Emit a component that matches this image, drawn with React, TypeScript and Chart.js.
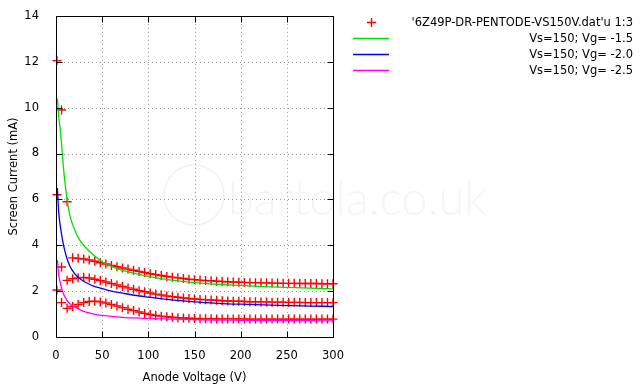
import React, { useEffect, useRef } from "react";
import { Chart, registerables } from "chart.js";

Chart.register(...registerables);

// ---- data ----
const anodeVoltage = [
  1, 6, 12, 18, 24, 30, 36, 42, 48, 54, 60, 66, 72, 78, 84, 90, 96, 102, 108, 114,
  120, 126, 132, 138, 144, 150, 156, 162, 168, 174, 180, 186, 192, 198, 204, 210,
  216, 222, 228, 234, 240, 246, 252, 258, 264, 270, 276, 282, 288, 294, 300,
];
const measuredVg15 = [
  12.05, 9.9, 5.9, 3.45, 3.43, 3.4, 3.36, 3.3, 3.24, 3.18, 3.12, 3.06, 3.01, 2.96,
  2.91, 2.86, 2.81, 2.76, 2.72, 2.68, 2.64, 2.61, 2.58, 2.55, 2.52, 2.5, 2.48, 2.46,
  2.45, 2.43, 2.42, 2.41, 2.4, 2.39, 2.38, 2.37, 2.37, 2.36, 2.36, 2.35, 2.35, 2.34,
  2.34, 2.34, 2.33, 2.33, 2.33, 2.33, 2.32, 2.32, 2.32,
];
const measuredVg20 = [
  6.2, 3.05, 2.47, 2.54, 2.58, 2.6, 2.57, 2.52, 2.46, 2.4, 2.33, 2.27, 2.2, 2.14,
  2.08, 2.02, 1.97, 1.92, 1.87, 1.83, 1.79, 1.76, 1.73, 1.7, 1.68, 1.66, 1.64, 1.62,
  1.61, 1.6, 1.58, 1.57, 1.56, 1.56, 1.55, 1.54, 1.54, 1.53, 1.53, 1.52, 1.52, 1.52,
  1.51, 1.51, 1.51, 1.5, 1.5, 1.5, 1.5, 1.5, 1.5,
];
const measuredVg25 = [
  2.05, 1.5, 1.25, 1.33, 1.42, 1.5, 1.55, 1.56, 1.53, 1.48, 1.42, 1.35, 1.28, 1.21,
  1.15, 1.09, 1.03, 0.98, 0.94, 0.91, 0.88, 0.86, 0.84, 0.83, 0.82, 0.81, 0.8, 0.8,
  0.8, 0.79, 0.79, 0.79, 0.79, 0.79, 0.79, 0.78, 0.78, 0.78, 0.78, 0.78, 0.78, 0.78,
  0.78, 0.78, 0.78, 0.78, 0.78, 0.78, 0.78, 0.78, 0.78,
];

const fitVoltage = [
  1.5, 3, 5, 7, 9, 12, 15, 18, 22, 26, 30, 35, 40, 50, 60, 72, 85, 100, 125, 150, 175,
  200, 225, 250, 275, 300,
];
const fitVg15 = [
  10.4, 9.6, 8.9, 7.9, 7.0, 6.0, 5.3, 4.9, 4.5, 4.2, 4.0, 3.78, 3.6, 3.28, 3.08, 2.9,
  2.77, 2.64, 2.48, 2.37, 2.3, 2.25, 2.2, 2.16, 2.13, 2.1,
];
const fitVg20 = [
  6.5, 5.4, 4.75, 4.25, 3.85, 3.4, 3.1, 2.88, 2.68, 2.54, 2.43, 2.32, 2.23, 2.11, 2.0,
  1.91, 1.82, 1.74, 1.62, 1.53, 1.47, 1.43, 1.4, 1.37, 1.35, 1.33,
];
const fitVg25 = [
  3.35, 2.7, 2.3, 2.0, 1.8, 1.6, 1.45, 1.35, 1.27, 1.19, 1.12, 1.06, 1.01, 0.94, 0.9,
  0.86, 0.83, 0.81, 0.78, 0.76, 0.74, 0.73, 0.72, 0.71, 0.71, 0.7,
];

const seriesLabels = [
  "'6Z49P-DR-PENTODE-VS150V.dat'u 1:3",
  "Vs=150; Vg= -1.5",
  "Vs=150; Vg= -2.0",
  "Vs=150; Vg= -2.5",
];
const seriesColors = ["#ff0000", "#00e000", "#0000ff", "#ff00ff"];
const xTitle = "Anode Voltage (V)";
const yTitle = "Screen Current (mA)";
const watermark = "bartola.co.uk";

const FONT = "'DejaVu Sans', Verdana, sans-serif";
const FSIZE = 11.5;

const pairs = (xs: number[], ys: number[]) => xs.map((x, i) => ({ x, y: ys[i] }));

const framePlugin = {
  id: "frame",
  beforeDatasetsDraw(chart: any) {
    const { ctx, chartArea: a, scales } = chart;
    const xs = scales.x;
    const ys = scales.y;
    ctx.save();
    // watermark
    ctx.fillStyle = "rgba(0,0,0,0.045)";
    ctx.strokeStyle = "rgba(0,0,0,0.06)";
    ctx.lineWidth = 1.5;
    ctx.beginPath();
    ctx.arc(194, 195, 30, 0, Math.PI * 2);
    ctx.stroke();
    ctx.font = `300 47px Lato, sans-serif`;
    ctx.textBaseline = "alphabetic";
    ctx.textAlign = "left";
    ctx.fillText(watermark, 228, 215);
    // dotted grid
    ctx.strokeStyle = "#9a9a9a";
    ctx.lineWidth = 1;
    ctx.setLineDash([1, 3]);
    ctx.beginPath();
    xs.ticks.forEach((t: any) => {
      const px = Math.round(xs.getPixelForValue(t.value)) + 0.5;
      if (px <= a.left + 1 || px >= a.right - 1) return;
      ctx.moveTo(px, a.top);
      ctx.lineTo(px, a.bottom);
    });
    ys.ticks.forEach((t: any) => {
      const py = Math.round(ys.getPixelForValue(t.value)) + 0.5;
      if (py <= a.top + 1 || py >= a.bottom - 1) return;
      ctx.moveTo(a.left, py);
      ctx.lineTo(a.right, py);
    });
    ctx.stroke();
    ctx.restore();
  },
  afterDatasetsDraw(chart: any) {
    const { ctx, chartArea: a, scales } = chart;
    const xs = scales.x;
    const ys = scales.y;
    const L = Math.round(a.left) + 0.5;
    const R = Math.round(a.right) + 0.5;
    const T = Math.round(a.top) + 0.5;
    const B = Math.round(a.bottom) + 0.5;
    ctx.save();
    ctx.strokeStyle = "#000";
    ctx.lineWidth = 1;
    ctx.setLineDash([]);
    ctx.beginPath();
    ctx.rect(L, T, R - L, B - T);
    const tl = 6;
    xs.ticks.forEach((t: any) => {
      const px = Math.round(xs.getPixelForValue(t.value)) + 0.5;
      ctx.moveTo(px, B);
      ctx.lineTo(px, B - tl);
      ctx.moveTo(px, T);
      ctx.lineTo(px, T + tl);
    });
    ys.ticks.forEach((t: any) => {
      const py = Math.round(ys.getPixelForValue(t.value)) + 0.5;
      ctx.moveTo(L, py);
      ctx.lineTo(L + tl, py);
      ctx.moveTo(R, py);
      ctx.lineTo(R - tl, py);
    });
    ctx.stroke();

    // legend (gnuplot style: sample on left, text right-aligned)
    ctx.font = `${FSIZE}px ${FONT}`;
    ctx.fillStyle = "#000";
    ctx.textAlign = "right";
    ctx.textBaseline = "middle";
    const rows = [22.5, 38.5, 54.5, 70.5];
    seriesLabels.forEach((label, i) => {
      const y = rows[i];
      ctx.fillText(label, 633, y + 0.5);
      ctx.strokeStyle = seriesColors[i];
      ctx.lineWidth = i === 0 ? 1.4 : 1.3;
      ctx.beginPath();
      if (i === 0) {
        ctx.moveTo(367, y);
        ctx.lineTo(376, y);
        ctx.moveTo(371.5, y - 4.5);
        ctx.lineTo(371.5, y + 4.5);
      } else {
        ctx.moveTo(353, y);
        ctx.lineTo(389, y);
      }
      ctx.stroke();
    });
    ctx.restore();
  },
};

export default function App() {
  const ref = useRef<HTMLCanvasElement>(null);
  useEffect(() => {
    if (!ref.current) return;
    const measured = [
      ...pairs(anodeVoltage, measuredVg15),
      ...pairs(anodeVoltage, measuredVg20),
      ...pairs(anodeVoltage, measuredVg25),
    ];
    const lineDs = (ys: number[], color: string, label: string) => ({
      type: "line" as const,
      label,
      data: pairs(fitVoltage, ys),
      borderColor: color,
      backgroundColor: color,
      borderWidth: 1.3,
      pointRadius: 0,
      fill: false,
      cubicInterpolationMode: "monotone" as const,
      showLine: true,
    });
    const chart = new Chart(ref.current, {
      type: "scatter",
      data: {
        datasets: [
          lineDs(fitVg15, seriesColors[1], seriesLabels[1]),
          lineDs(fitVg20, seriesColors[2], seriesLabels[2]),
          lineDs(fitVg25, seriesColors[3], seriesLabels[3]),
          {
            label: seriesLabels[0],
            data: measured,
            showLine: false,
            clip: false,
            pointStyle: "cross",
            pointRadius: 4.5,
            pointBorderWidth: 1.4,
            pointBorderColor: seriesColors[0],
            pointBackgroundColor: seriesColors[0],
            borderColor: seriesColors[0],
            backgroundColor: seriesColors[0],
          } as any,
        ],
      },
      options: {
        animation: false,
        responsive: false,
        maintainAspectRatio: false,
        layout: { padding: { left: 0, top: 14, right: 307, bottom: 0 } },
        plugins: { legend: { display: false }, tooltip: { enabled: false } },
        scales: {
          x: {
            type: "linear",
            min: 0,
            max: 300,
            ticks: { stepSize: 50, padding: 4, color: "#000", font: { family: FONT, size: FSIZE } },
            grid: { display: false },
            border: { display: false },
            title: {
              display: true,
              text: xTitle,
              color: "#000",
              font: { family: FONT, size: FSIZE },
              padding: { top: 0, bottom: 2 },
            },
            afterFit: (s: any) => {
              s.height = 50;
            },
          },
          y: {
            type: "linear",
            min: 0,
            max: 14,
            ticks: { stepSize: 2, padding: 9, color: "#000", font: { family: FONT, size: FSIZE } },
            grid: { display: false },
            border: { display: false },
            title: {
              display: true,
              text: yTitle,
              color: "#000",
              font: { family: FONT, size: FSIZE },
              padding: { top: 7, bottom: 0 },
            },
            afterFit: (s: any) => {
              s.width = 56;
            },
          },
        },
      },
      plugins: [framePlugin],
    });
    return () => chart.destroy();
  }, []);
  return (
    <div style={{ position: "fixed", left: 0, top: 0, width: 640, height: 387, background: "#fff" }}>
      <canvas ref={ref} width={640} height={387} style={{ display: "block" }} />
    </div>
  );
}
